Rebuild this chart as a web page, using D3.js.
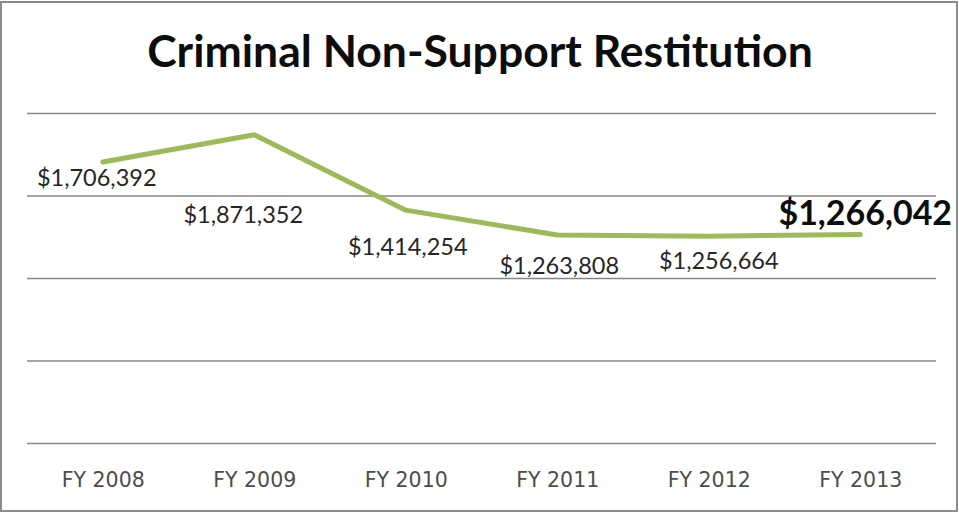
<!DOCTYPE html>
<html>
<head>
<meta charset="utf-8">
<script src="https://cdn.jsdelivr.net/npm/d3@7"></script>
<style>
  html, body { margin: 0; padding: 0; background: #fff; }
  svg { display: block; }
</style>
</head>
<body>
<svg id="chart" width="959" height="513"></svg>
<script>
// Fiscal years and restitution collected (dollars)
const years = ["FY 2008", "FY 2009", "FY 2010", "FY 2011", "FY 2012", "FY 2013"];
const restitution = [1706392, 1871352, 1414254, 1263808, 1256664, 1266042];
const gridTicks = [0, 500000, 1000000, 1500000, 2000000];

// Hand-placed label nudges (px) relative to each point
const labelNudge = [
  { dx: -6, dy: 24 },
  { dx: -11, dy: 88 },
  { dx: 2, dy: 45 },
  { dx: 2, dy: 39 },
  { dx: 10, dy: 33 },
  { dx: 5, dy: -10 }
];

const svg = d3.select("#chart");
const W = 959, H = 513;

// outer frame
svg.append("rect")
  .attr("x", 1).attr("y", 2)
  .attr("width", W - 3).attr("height", H - 4)
  .attr("fill", "#fff")
  .attr("stroke", "#8c8c8c")
  .attr("stroke-width", 2);

const plot = { left: 27, right: 936, top: 113.5, bottom: 443.5 };

const x = d3.scalePoint()
  .domain(years)
  .range([plot.left, plot.right])
  .padding(0.5);

const y = d3.scaleLinear()
  .domain([0, 2000000])
  .range([plot.bottom, plot.top]);

// horizontal gridlines
svg.append("g")
  .selectAll("line")
  .data(gridTicks)
  .join("line")
  .attr("x1", plot.left).attr("x2", plot.right)
  .attr("y1", d => y(d)).attr("y2", d => y(d))
  .attr("stroke", "#868686")
  .attr("stroke-width", 1.5);

// title
svg.append("text")
  .attr("x", 480).attr("y", 67)
  .attr("text-anchor", "middle")
  .attr("font-family", "Lato, 'Open Sans', sans-serif")
  .attr("font-weight", "bold")
  .attr("font-size", 44.5)
  .attr("fill", "#0d0d0d")
  .text("Criminal Non-Support Restitution");

// category axis labels
const xAxis = d3.axisBottom(x).tickSize(0).tickPadding(0);
const axisG = svg.append("g")
  .attr("transform", `translate(0,${plot.bottom})`)
  .call(xAxis);
axisG.select(".domain").remove();
axisG.selectAll("text")
  .attr("dy", null)
  .attr("y", 43)
  .attr("font-family", "'DejaVu Sans', Verdana, sans-serif")
  .attr("font-size", 20.5)
  .attr("fill", "#4d4d4d");

// series line
const line = d3.line()
  .x((d, i) => x(years[i]))
  .y(d => y(d));

svg.append("path")
  .datum(restitution)
  .attr("d", line)
  .attr("fill", "none")
  .attr("stroke", "#9BBB59")
  .attr("stroke-width", 5)
  .attr("stroke-linejoin", "round")
  .attr("stroke-linecap", "round");

// value labels
const fmt = d3.format("$,");
const last = restitution.length - 1;
svg.append("g")
  .selectAll("text")
  .data(restitution)
  .join("text")
  .attr("x", (d, i) => x(years[i]) + labelNudge[i].dx)
  .attr("y", (d, i) => y(d) + labelNudge[i].dy)
  .attr("text-anchor", "middle")
  .attr("font-family", "Lato, 'Open Sans', sans-serif")
  .attr("font-weight", (d, i) => i === last ? "bold" : "normal")
  .attr("font-size", (d, i) => i === last ? 34 : 23.5)
  .attr("fill", (d, i) => i === last ? "#0d0d0d" : "#262626")
  .text(d => fmt(d));
</script>
</body>
</html>
